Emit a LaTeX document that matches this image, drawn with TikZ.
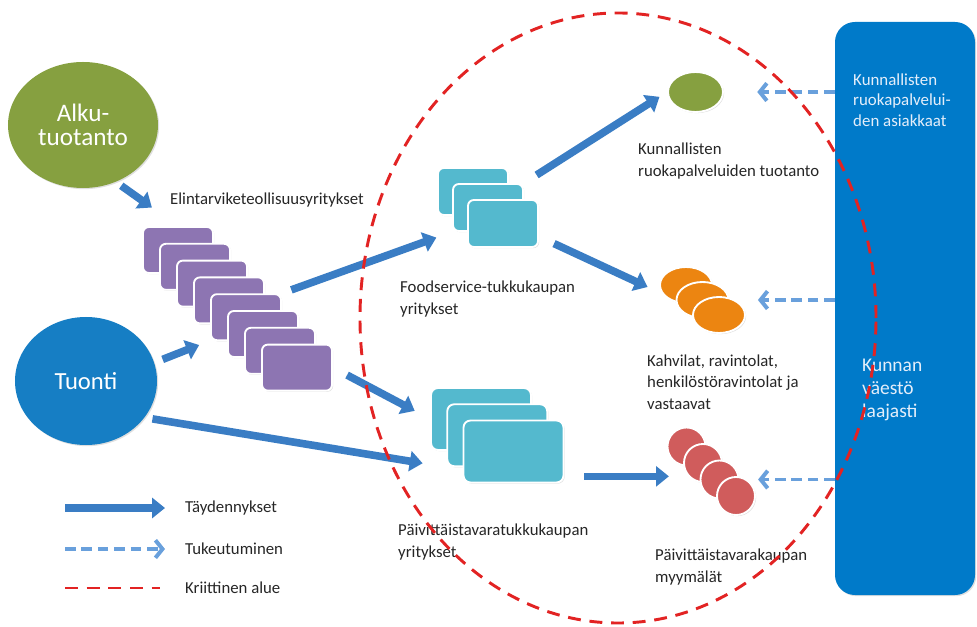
\documentclass[tikz,border=0pt]{standalone}
\usepackage{fontspec}
\setmainfont{Carlito}
\usetikzlibrary{arrows.meta,shapes.geometric,shadows,calc}
\definecolor{cpanel}{RGB}{0,122,201}
\definecolor{ctuonti}{RGB}{22,126,196}
\definecolor{colive}{RGB}{134,160,64}
\definecolor{cpurple}{RGB}{141,117,178}
\definecolor{ccyan}{RGB}{84,185,206}
\definecolor{corange}{RGB}{236,133,17}
\definecolor{cred}{RGB}{208,92,92}
\definecolor{carrow}{RGB}{58,125,196}
\definecolor{cdash}{RGB}{105,160,220}
\definecolor{ccrit}{RGB}{226,35,35}
\definecolor{ctext}{RGB}{38,38,38}
\definecolor{cpaneltext}{RGB}{228,238,250}
\begin{document}
\begin{tikzpicture}[x=0.03cm,y=-0.03cm,
  shadowed/.style={drop shadow={opacity=0.25,shadow xshift=1pt,shadow yshift=-1pt}},
  pbox/.style={rectangle,rounded corners=5pt,fill=cpurple,draw=white,line width=1.6pt,
    minimum width=2.1cm,minimum height=1.38cm,inner sep=0pt,shadowed},
  fbox/.style={rectangle,rounded corners=5pt,fill=ccyan,draw=white,line width=1.6pt,
    minimum width=2.1cm,minimum height=1.41cm,inner sep=0pt,shadowed},
  dbox/.style={rectangle,rounded corners=6pt,fill=ccyan,draw=white,line width=1.6pt,
    minimum width=3.0cm,minimum height=1.86cm,inner sep=0pt,shadowed},
  oell/.style={ellipse,fill=corange,draw=white,line width=1.6pt,
    minimum width=1.56cm,minimum height=1.08cm,inner sep=0pt,shadowed},
  rcirc/.style={circle,fill=cred,draw=white,line width=1.6pt,
    minimum size=1.14cm,inner sep=0pt,shadowed},
  lab/.style={align=left,anchor=west,text=ctext,inner sep=0pt,
    font=\fontsize{14.3}{18.5}\selectfont},
  arr/.style={draw=carrow,line width=6.5pt,-{Triangle[length=11pt,width=17pt]}},
  darr/.style={draw=cdash,line width=3.4pt,dash pattern=on 9pt off 5pt,
    -{Straight Barb[length=6pt,width=15pt]}},
  critline/.style={draw=ccrit,line width=2.5pt,dash pattern=on 11pt off 7.5pt},
]
\useasboundingbox (0,0) rectangle (977,627);

% right panel
\node[rectangle,rounded corners=0.6cm,fill=cpanel,minimum width=4.2cm,minimum height=17.19cm,
  inner sep=0pt,shadowed] (panel) at (905,308.5) {};
\node[lab,text=cpaneltext,font=\fontsize{14.4}{17.5}\selectfont] (pt1) at (853,100)
  {Kunnallisten\\ruokapalvelui-\\den asiakkaat};
\node[lab,text=cpaneltext,font=\fontsize{16.6}{19.5}\selectfont] (pt2) at (862,390)
  {Kunnan\\väestö\\laajasti};

% source circles
\node[ellipse,fill=colive,minimum width=4.5cm,minimum height=3.78cm,inner sep=0pt,
  text=white,align=center,font=\fontsize{21.5}{20}\selectfont,shadowed] (alku) at (83,125)
  {Alku-\\tuotanto};
\node[ellipse,fill=ctuonti,minimum width=4.26cm,minimum height=3.84cm,inner sep=0pt,
  text=white,font=\fontsize{21}{24}\selectfont,shadowed] (tuonti) at (86,381) {Tuonti};

% purple stack
\foreach \i in {1,...,8}
  \node[pbox] (p\i) at ({178+17*(\i-1)},{250+16.8*(\i-1)}) {};
\node[lab] (elt) at (170,200) {Elintarviketeollisuusyritykset};

% foodservice stack
\foreach \i in {1,2,3}
  \node[fbox] (f\i) at ({473+15*(\i-1)},{191.5+16*(\i-1)}) {};
\node[lab] (flab) at (400,299) {Foodservice-tukkukaupan\\yritykset};

% grocery wholesale stack
\foreach \i in {1,2,3}
  \node[dbox] (d\i) at ({481+16.25*(\i-1)},{419+16.25*(\i-1)}) {};
\node[lab] (dlab) at (398,542) {Päivittäistavaratukkukaupan\\yritykset};

% municipal food service
\node[ellipse,fill=colive,draw=white,line width=1.6pt,minimum width=1.65cm,
  minimum height=1.2cm,inner sep=0pt,shadowed] (g) at (695.5,92) {};
\node[lab] (glab) at (638,161) {Kunnallisten\\ruokapalveluiden tuotanto};

% cafes
\foreach \i in {1,2,3}
  \node[oell] (o\i) at ({686+16.5*(\i-1)},{285+15*(\i-1)}) {};
\node[lab] (olab) at (647,382) {Kahvilat, ravintolat,\\henkilöstöravintolat ja\\vastaavat};

% shops
\foreach \i in {1,...,4}
  \node[rcirc] (r\i) at ({686.5+16.5*(\i-1)},{446.5+16.5*(\i-1)}) {};
\node[lab] (rlab) at (655,567) {Päivittäistavarakaupan\\myymälät};

% solid arrows
\draw[arr,shorten <=0.2cm,shorten >=0.96cm] (alku.-60) -- (p1.north);
\draw[arr,shorten <=0.27cm,shorten >=0.9cm] (tuonti.15) -- (p6.west);
\draw[arr,shorten <=0.3cm,shorten >=0.5cm] (p5.north east) -- (f2.south west);
\draw[arr,shorten <=0.48cm,shorten >=0.52cm] (p8.east) -- (d1.west);
\draw[arr,shorten <=0.24cm,shorten >=0.72cm] (tuonti.-32) -- (d2.south west);
\draw[arr,shorten <=0.45cm,shorten >=0.27cm] (f2.north east) -- (g.west);
\draw[arr,shorten <=0.5cm,shorten >=0.48cm] (f3.-20) -- (o1.200);
\draw[arr,shorten <=0.59cm,shorten >=0.92cm] (d3.-26) -- (d3.-26 -| r3.west);

% dashed arrows
\draw[darr,shorten >=1.0cm] (panel.west |- g.east) -- (g.east);
\draw[darr,shorten >=0.36cm] (panel.west |- o2.center) -- (o2.center -| o3.east);
\draw[darr,shorten >=0.56cm] (panel.west |- r3.center) -- (r3.east);

% legend
\coordinate (ls1) at (65,508);
\coordinate (ls2) at (65,549);
\coordinate (ls3) at (65,588);
\node[lab] (lt1) at (185,508) {Täydennykset};
\node[lab] (lt2) at (185,549) {Tukeutuminen};
\node[lab] (lt3) at (185,588) {Kriittinen alue};
\draw[arr,line width=7.5pt,shorten >=0.6cm] (ls1) -- (lt1.west);
\draw[darr,shorten >=0.6cm] (ls2) -- (lt2.west);
\draw[critline,shorten >=0.75cm] (ls3) -- (lt3.west);

% critical area
\node[ellipse,critline,minimum width=15.48cm,minimum height=18.3cm,inner sep=0pt] (crit) at (618,318) {};
\end{tikzpicture}
\end{document}
